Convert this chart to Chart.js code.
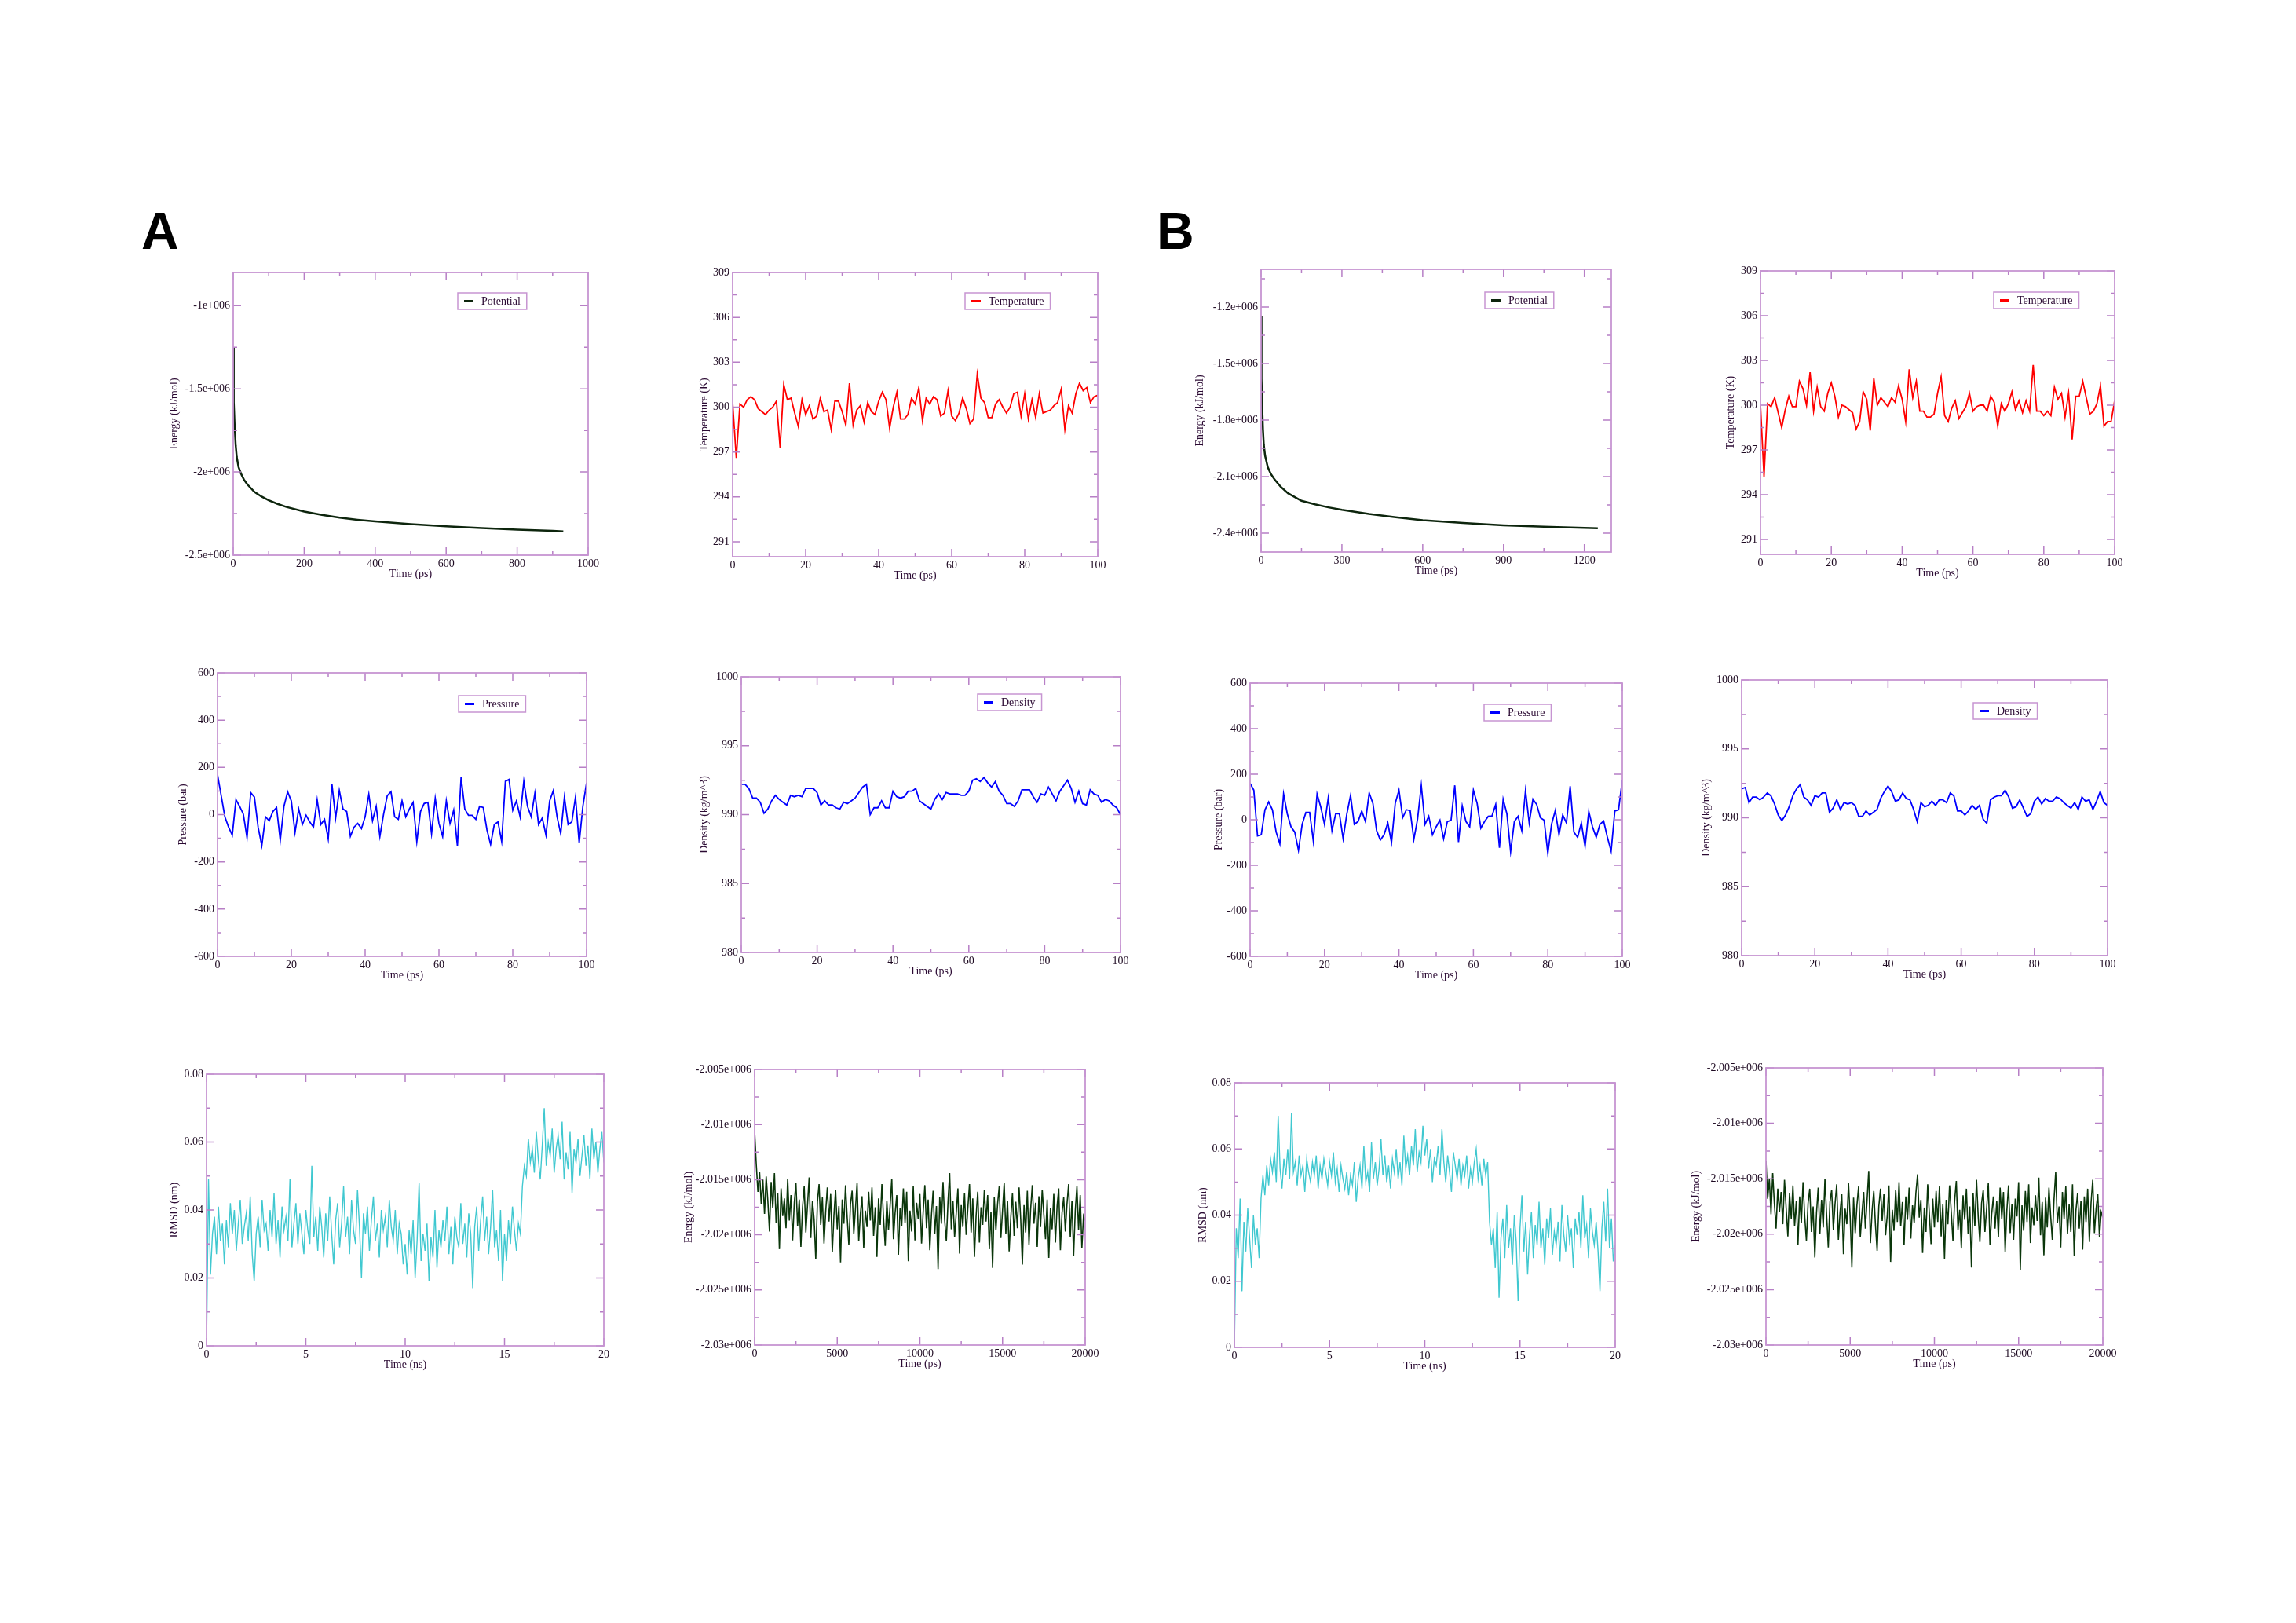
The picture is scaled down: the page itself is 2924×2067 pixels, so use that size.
<!DOCTYPE html>
<html><head><meta charset="utf-8">
<script src="https://cdn.jsdelivr.net/npm/chart.js@4"></script>
<style>
html,body{margin:0;padding:0;background:#fff;width:2924px;height:2067px;overflow:hidden;}
canvas{position:absolute;}
.letter{position:absolute;font-family:'Liberation Sans',Arial,sans-serif;font-weight:bold;font-size:66px;line-height:66px;color:#000;}
</style></head><body>
<div class="letter" style="left:180px;top:261px">A</div>
<div class="letter" style="left:1473px;top:261px">B</div>
<script>
// ---------- DATA ----------
const timePs100 = Array.from({length:101},(_,i)=>i);          // 0..100 ps
const rmsdTimeNs = Array.from({length:201},(_,i)=>i/10);       // 0..20 ns
const energyTimePs = Array.from({length:201},(_,i)=>i*100);    // 0..20000 ps

const potATime = [0,1,2,4,7,10,15,22,30,40,60,80,100,125,150,200,250,300,350,400,500,600,700,800,900,930];
const potAEnergy = [-1250000,-1450000,-1580000,-1720000,-1840000,-1910000,-1970000,-2010000,-2045000,-2075000,-2120000,-2148000,-2170000,-2192000,-2210000,-2238000,-2258000,-2275000,-2287000,-2297000,-2313000,-2326000,-2337000,-2347000,-2354000,-2357000];
const potBTime = [0,1,2,4,7,10,15,25,36,50,73,100,150,200,250,300,400,500,600,750,900,1050,1200,1250];
const potBEnergy = [-1250000,-1450000,-1580000,-1720000,-1850000,-1930000,-1990000,-2050000,-2085000,-2115000,-2154000,-2188000,-2228000,-2247000,-2263000,-2276000,-2298000,-2316000,-2331000,-2346000,-2358000,-2366000,-2372000,-2374000];

const tempA = [300.3,296.6,300.2,300.0,300.5,300.7,300.5,299.9,299.7,299.5,299.8,300.0,300.4,297.3,301.5,300.5,300.6,299.6,298.7,300.5,299.5,300.1,299.2,299.4,300.6,299.7,299.8,298.5,300.4,300.4,299.7,298.8,301.6,298.8,299.8,300.1,299.0,300.3,299.7,299.5,300.4,301.0,300.5,298.6,300.0,301.0,299.2,299.2,299.5,300.6,300.2,301.3,299.1,300.6,300.2,300.7,300.5,299.4,299.6,301.1,299.4,299.1,299.6,300.6,299.9,298.9,299.2,302.2,300.6,300.3,299.3,299.3,300.2,300.5,300.0,299.6,300.0,300.9,301.0,299.4,300.9,299.2,300.5,299.3,300.9,299.6,299.7,299.8,300.1,300.3,301.2,298.5,300.1,299.6,300.9,301.6,301.1,301.3,300.3,300.7,300.8];
const tempB = [300.0,295.2,300.1,299.9,300.5,299.5,298.5,299.7,300.6,299.9,299.9,301.6,301.1,300.0,302.2,299.6,301.2,299.9,299.6,300.8,301.5,300.6,299.2,300.0,299.9,299.7,299.5,298.4,298.9,300.9,300.4,298.3,301.8,300.0,300.5,300.2,299.9,300.5,300.2,301.3,300.4,298.9,302.4,300.5,301.6,299.6,299.6,299.2,299.2,299.4,300.8,301.9,299.3,298.9,299.8,300.3,299.1,299.5,299.9,300.8,299.6,299.9,300.0,300.0,299.6,300.6,300.2,298.6,300.1,299.6,300.1,300.9,299.7,300.3,299.5,300.3,299.6,302.7,299.6,299.6,299.3,299.6,299.3,301.2,300.4,300.8,299.2,300.8,297.7,300.6,300.6,301.6,300.5,299.4,299.6,300.1,301.3,298.6,298.9,298.9,300.3];

const pressureA = [169,80,-9,-53,-87,63,35,2,-98,93,74,-53,-131,-9,-26,13,30,-109,35,97,58,-75,24,-42,-3,-31,-53,63,-42,-20,-103,130,-14,102,24,13,-92,-53,-37,-59,-9,86,-26,35,-92,2,80,97,-9,-20,58,-9,24,52,-114,13,47,52,-81,69,-37,-92,58,-37,19,-131,158,24,-3,-3,-20,35,30,-64,-126,-42,-31,-114,141,149,19,58,-9,141,35,-9,91,-42,-14,-87,58,102,-9,-81,74,-42,-31,74,-120,35,135];
const pressureB = [160,130,-71,-66,44,78,44,-54,-106,113,26,-31,-54,-134,-20,32,32,-94,113,55,-20,95,-48,26,26,-83,26,107,-20,-8,38,-8,118,72,-48,-89,-66,-14,-100,72,130,9,44,40,-86,3,151,-20,15,-66,-31,-2,-83,-8,-2,151,-98,61,-8,-31,130,72,-37,-8,15,17,67,-123,90,26,-140,-8,15,-48,128,-14,90,67,9,-2,-148,-20,40,-66,21,-14,147,-54,-77,-14,-117,36,-31,-77,-20,-6,-77,-138,38,44,174];

const densityA = [992.2,992.2,991.9,991.2,991.2,990.9,990.1,990.4,991.0,991.4,991.1,990.9,990.7,991.4,991.3,991.4,991.3,991.9,991.9,991.9,991.6,990.7,991.0,990.7,990.7,990.5,990.4,990.9,990.8,991.0,991.2,991.6,992.0,992.2,990.0,990.5,990.5,991.0,990.5,990.5,991.7,991.3,991.2,991.3,991.7,991.7,991.9,991.0,990.8,990.6,990.4,991.1,991.5,991.1,991.6,991.5,991.5,991.5,991.4,991.4,991.7,992.5,992.6,992.4,992.7,992.3,992.0,992.4,991.7,991.4,990.8,990.8,990.6,991.0,991.8,991.8,991.8,991.3,990.9,991.5,991.4,992.0,991.5,991.0,991.7,992.1,992.5,991.9,990.9,991.7,990.8,990.7,991.8,991.5,991.4,990.9,991.1,991.0,990.7,990.5,990.0];
const densityB = [992.1,992.2,991.1,991.5,991.5,991.3,991.5,991.8,991.6,991.0,990.2,989.8,990.2,990.8,991.6,992.1,992.4,991.5,991.3,990.9,991.6,991.5,991.8,991.8,990.4,990.7,991.3,990.6,991.1,991.0,991.1,990.9,990.1,990.1,990.5,990.2,990.4,990.6,991.4,991.9,992.3,991.9,991.2,991.3,991.8,991.4,991.3,990.6,989.7,991.1,990.8,990.9,991.2,990.9,991.3,991.3,991.1,991.8,991.6,990.5,990.5,990.2,990.5,990.9,990.6,990.9,989.9,989.6,991.3,991.5,991.6,991.6,992.0,991.5,990.7,990.8,991.3,990.7,990.1,990.3,991.2,991.5,991.0,991.4,991.2,991.2,991.5,991.4,991.1,990.9,990.7,991.1,990.6,991.5,991.2,991.3,990.6,991.2,991.9,991.1,990.9];

const rmsdA = [0.000,0.049,0.021,0.033,0.038,0.027,0.041,0.031,0.036,0.024,
0.037,0.029,0.042,0.033,0.040,0.028,0.036,0.043,0.030,0.035,
0.039,0.031,0.044,0.027,0.019,0.033,0.038,0.029,0.043,0.034,
0.036,0.028,0.040,0.032,0.045,0.030,0.037,0.026,0.041,0.034,
0.038,0.031,0.049,0.029,0.036,0.042,0.030,0.039,0.033,0.027,
0.040,0.034,0.030,0.053,0.032,0.038,0.028,0.041,0.035,0.026,
0.039,0.031,0.044,0.033,0.024,0.037,0.042,0.029,0.036,0.047,
0.032,0.038,0.027,0.043,0.034,0.030,0.046,0.035,0.020,0.039,
0.033,0.041,0.028,0.037,0.044,0.031,0.036,0.026,0.040,0.034,
0.038,0.029,0.043,0.035,0.031,0.040,0.027,0.036,0.033,0.024,
0.030,0.021,0.034,0.027,0.037,0.020,0.031,0.048,0.025,0.033,
0.028,0.036,0.019,0.032,0.026,0.040,0.023,0.034,0.029,0.037,
0.031,0.041,0.027,0.035,0.024,0.038,0.032,0.029,0.042,0.030,
0.036,0.026,0.039,0.033,0.017,0.035,0.041,0.028,0.037,0.044,
0.031,0.038,0.027,0.035,0.046,0.029,0.034,0.025,0.040,0.019,
0.033,0.025,0.037,0.030,0.041,0.034,0.028,0.036,0.033,0.047,
0.053,0.050,0.061,0.054,0.058,0.051,0.063,0.055,0.049,0.059,
0.070,0.053,0.060,0.056,0.064,0.051,0.058,0.062,0.055,0.066,
0.049,0.057,0.052,0.063,0.045,0.058,0.054,0.061,0.050,0.056,
0.062,0.053,0.059,0.049,0.064,0.055,0.060,0.051,0.058,0.063,
0.054];
const rmsdB = [0.000,0.036,0.027,0.045,0.017,0.038,0.029,0.042,0.033,0.024,
0.040,0.031,0.036,0.027,0.045,0.052,0.046,0.055,0.049,0.057,
0.053,0.059,0.050,0.070,0.054,0.048,0.057,0.052,0.060,0.051,
0.071,0.053,0.056,0.049,0.058,0.052,0.055,0.047,0.057,0.053,
0.050,0.056,0.052,0.058,0.048,0.055,0.051,0.057,0.053,0.049,
0.056,0.052,0.059,0.050,0.054,0.047,0.055,0.051,0.048,0.053,
0.046,0.052,0.049,0.056,0.044,0.051,0.055,0.048,0.061,0.050,
0.053,0.047,0.062,0.051,0.056,0.049,0.054,0.063,0.052,0.058,
0.050,0.055,0.048,0.057,0.053,0.060,0.051,0.056,0.049,0.064,
0.054,0.058,0.052,0.061,0.055,0.066,0.053,0.059,0.056,0.067,
0.058,0.063,0.054,0.060,0.050,0.057,0.055,0.061,0.052,0.066,
0.056,0.050,0.058,0.053,0.047,0.059,0.055,0.051,0.057,0.049,
0.055,0.052,0.058,0.048,0.054,0.050,0.056,0.060,0.051,0.055,
0.049,0.057,0.052,0.056,0.038,0.031,0.036,0.024,0.041,0.015,
0.033,0.039,0.027,0.043,0.030,0.036,0.025,0.040,0.032,0.014,
0.036,0.046,0.029,0.038,0.022,0.034,0.041,0.027,0.037,0.031,
0.044,0.030,0.036,0.025,0.039,0.033,0.042,0.028,0.035,0.031,
0.038,0.026,0.043,0.034,0.029,0.040,0.032,0.036,0.024,0.039,
0.034,0.041,0.030,0.046,0.033,0.037,0.027,0.042,0.035,0.031,
0.038,0.029,0.017,0.036,0.044,0.032,0.048,0.030,0.039,0.026,
0.031];

const energyA = [-2010600,-2013600,-2016100,-2014300,-2017200,-2015000,-2018100,-2014700,-2016900,-2019700,
-2015200,-2017600,-2014400,-2018900,-2016200,-2021300,-2015800,-2018300,-2016700,-2019400,
-2014900,-2018700,-2016400,-2020500,-2017100,-2015300,-2019200,-2016800,-2021100,-2017500,
-2015600,-2019800,-2017300,-2014800,-2020300,-2016900,-2018600,-2022200,-2017000,-2015400,
-2019100,-2016600,-2020800,-2017900,-2015700,-2018800,-2016300,-2021600,-2018200,-2015900,
-2019500,-2017400,-2022500,-2016800,-2019000,-2015500,-2018400,-2020900,-2017200,-2016000,
-2019900,-2017700,-2015300,-2020600,-2018100,-2016500,-2021200,-2017800,-2019300,-2016100,
-2018700,-2015700,-2020100,-2017500,-2022000,-2016700,-2019100,-2015400,-2018500,-2021000,
-2016900,-2019600,-2017300,-2014900,-2020400,-2018000,-2016400,-2021800,-2017600,-2019200,
-2015800,-2018900,-2016100,-2022400,-2017800,-2019700,-2015600,-2020500,-2017100,-2018600,
-2016300,-2020800,-2017900,-2015500,-2019400,-2016800,-2021400,-2018200,-2016000,-2019900,
-2017400,-2023100,-2016600,-2019000,-2015200,-2018700,-2020600,-2017000,-2014400,-2019500,
-2016900,-2020200,-2018000,-2015800,-2021700,-2017300,-2019300,-2016200,-2020000,-2017600,
-2015400,-2019800,-2016700,-2022000,-2018300,-2016100,-2020700,-2017500,-2019100,-2015900,
-2018800,-2016400,-2021300,-2017900,-2023000,-2016600,-2019600,-2017200,-2015600,-2020300,
-2017800,-2015300,-2019900,-2016900,-2021500,-2018400,-2016200,-2020100,-2017000,-2019400,
-2015700,-2018600,-2022700,-2017300,-2019800,-2016000,-2020900,-2017700,-2015500,-2019000,
-2017100,-2021100,-2016500,-2019300,-2015900,-2018200,-2020400,-2016800,-2022100,-2017600,
-2019500,-2016300,-2020700,-2017400,-2015800,-2021400,-2018000,-2016600,-2019700,-2017200,
-2015400,-2020200,-2016900,-2021900,-2017800,-2015600,-2019600,-2016400,-2021200,-2018300,
-2018700];
const energyB = [-2013400,-2016800,-2015000,-2018200,-2014500,-2017300,-2019500,-2015900,-2018000,-2016200,
-2019100,-2015100,-2017700,-2020200,-2016300,-2018600,-2015600,-2019300,-2017000,-2021000,
-2016600,-2019000,-2015300,-2018400,-2020600,-2017200,-2015900,-2019800,-2017500,-2022100,
-2018100,-2015800,-2020000,-2016900,-2019400,-2015000,-2018300,-2021200,-2017100,-2016000,
-2019600,-2017300,-2015500,-2020500,-2018000,-2016400,-2021800,-2017700,-2019100,-2015400,
-2018500,-2023000,-2016700,-2019900,-2017400,-2015700,-2020300,-2018100,-2016200,-2019500,
-2017000,-2014300,-2020800,-2017900,-2016100,-2019200,-2021500,-2017500,-2015900,-2018800,
-2016400,-2020100,-2018300,-2015600,-2022500,-2017800,-2019700,-2016000,-2018900,-2015300,
-2019300,-2017100,-2021000,-2016600,-2018700,-2015800,-2020400,-2017400,-2019000,-2016300,
-2014600,-2018500,-2016900,-2021700,-2017600,-2019800,-2015500,-2018200,-2020900,-2016800,
-2019400,-2016100,-2018900,-2015700,-2020200,-2017300,-2022200,-2016900,-2019100,-2015600,
-2018000,-2020600,-2017000,-2015200,-2019600,-2017800,-2021300,-2016500,-2018700,-2015900,
-2020000,-2017500,-2023000,-2016300,-2019300,-2015100,-2018400,-2020700,-2017200,-2016000,
-2019800,-2017700,-2015400,-2021000,-2018200,-2016600,-2019500,-2017000,-2020300,-2015800,
-2018600,-2016200,-2021600,-2017900,-2015600,-2019900,-2017300,-2020500,-2016800,-2018400,
-2015300,-2023200,-2017400,-2019700,-2016100,-2018900,-2015500,-2020800,-2017600,-2019200,
-2016500,-2018800,-2014900,-2020100,-2017100,-2021900,-2016700,-2019400,-2015800,-2018300,
-2020500,-2016900,-2014400,-2019000,-2017500,-2021200,-2016200,-2018600,-2015700,-2020000,
-2017300,-2019800,-2015500,-2022000,-2017900,-2016300,-2019500,-2017000,-2021400,-2016600,
-2018900,-2015900,-2020700,-2017200,-2015100,-2019900,-2017700,-2016400,-2020300,-2018000,
-2018500];

// ---------- STYLE ----------
const FRAME = '#c795d2';
const TICKC = '#b77fc6';
const LABELC = '#1e0a22';
const TITLEC = '#2b0a33';
const FONTF = '"Liberation Serif","Times New Roman",serif';

function zipXY(xs, ys){ return ys.map((v,i)=>({x:xs[i], y:v})).filter(p=>p.x!==undefined); }

function fmtSci(v){
  const s = v.toExponential();
  const m = s.match(/^(.*)e([+-])(\d+)$/);
  return m[1]+'e'+m[2]+m[3].padStart(3,'0');
}
function fmtPlain(v){ return String(Math.round(v*1e9)/1e9); }

function tickList(first, step, max){
  const out=[]; for(let k=0;;k++){ const v=Math.round((first+k*step)*1e9)/1e9; if(v>max+1e-9) break; out.push(v);} return out;
}
function minorList(first, step, minor, min, max){
  const out=[]; for(let k=-2;;k++){ const v=Math.round((first+k*minor)*1e9)/1e9; if(v>max+1e-9) break; if(v<min-1e-9) continue;
    const r=(v-first)/step; if(Math.abs(r-Math.round(r))<1e-6) continue; out.push(v);} return out;
}

const framePlugin = {
  id:'frame',
  afterDatasetsDraw(chart){
    const p = chart.options.plugins.frame;
    const {ctx, chartArea:{left,right,top,bottom}, scales:{x,y}} = chart;
    ctx.save();
    ctx.lineWidth = 1.5; ctx.strokeStyle = TICKC;
    const xs = (vals,len)=>vals.forEach(v=>{const px=x.getPixelForValue(v); ctx.beginPath(); ctx.moveTo(px,bottom); ctx.lineTo(px,bottom-len); ctx.moveTo(px,top); ctx.lineTo(px,top+len); ctx.stroke();});
    const ys = (vals,len)=>vals.forEach(v=>{const py=y.getPixelForValue(v); ctx.beginPath(); ctx.moveTo(left,py); ctx.lineTo(left+len,py); ctx.moveTo(right,py); ctx.lineTo(right-len,py); ctx.stroke();});
    xs(tickList(p.x.first,p.x.step,p.x.max),10);
    xs(minorList(p.x.first,p.x.step,p.x.minor,p.x.min,p.x.max),5);
    ys(tickList(p.y.first,p.y.step,p.y.max),10);
    ys(minorList(p.y.first,p.y.step,p.y.minor,p.y.min,p.y.max),5);
    ctx.strokeStyle = FRAME; ctx.lineWidth = 1.8;
    ctx.strokeRect(left,top,right-left,bottom-top);
    if (p.legend){
      const ds = chart.data.datasets[0];
      ctx.font = '14px '+FONTF;
      const tw = ctx.measureText(ds.label).width;
      const w = tw+38, h = 21;
      const lx = Math.round(left + p.legend.fx*(right-left)), ly = Math.round(top + p.legend.fy*(bottom-top));
      ctx.fillStyle = '#fff'; ctx.fillRect(lx,ly,w,h);
      ctx.strokeStyle = FRAME; ctx.lineWidth = 1.5; ctx.strokeRect(lx,ly,w,h);
      ctx.strokeStyle = ds.borderColor; ctx.lineWidth = 3;
      ctx.beginPath(); ctx.moveTo(lx+8,ly+h/2); ctx.lineTo(lx+20,ly+h/2); ctx.stroke();
      ctx.fillStyle = TITLEC; ctx.textBaseline = 'middle'; ctx.textAlign='left';
      ctx.fillText(ds.label, lx+30, ly+h/2+1);
    }
    ctx.restore();
  }
};

// ---------- PANELS (layout + styling) ----------
const panels = [
  {L:297,T:347,R:749,B:707, x:{min:0,max:1000,first:0,step:200,minor:100}, y:{min:-2500000,max:-800000,first:-2500000,step:500000,minor:250000}, sci:true,
   xt:'Time (ps)', yt:'Energy (kJ/mol)', yOff:75, legend:{fx:0.632,fy:0.072}, label:'Potential', color:'#0d250d', lw:2.5, data:zipXY(potATime,potAEnergy)},
  {L:933,T:347,R:1398,B:709, x:{min:0,max:100,first:0,step:20,minor:10}, y:{min:290,max:309,first:291,step:3,minor:1.5},
   xt:'Time (ps)', yt:'Temperature (K)', yOff:36, legend:{fx:0.637,fy:0.072}, label:'Temperature', color:'#ff0000', lw:1.8, data:zipXY(timePs100,tempA)},
  {L:1606,T:343,R:2052,B:703, x:{min:0,max:1300,first:0,step:300,minor:150}, y:{min:-2500000,max:-1000000,first:-2400000,step:300000,minor:150000}, sci:true,
   xt:'Time (ps)', yt:'Energy (kJ/mol)', yOff:78, legend:{fx:0.639,fy:0.08}, label:'Potential', color:'#0d250d', lw:2.5, data:zipXY(potBTime,potBEnergy)},
  {L:2242,T:345,R:2693,B:706, x:{min:0,max:100,first:0,step:20,minor:10}, y:{min:290,max:309,first:291,step:3,minor:1.5},
   xt:'Time (ps)', yt:'Temperature (K)', yOff:38, legend:{fx:0.659,fy:0.075}, label:'Temperature', color:'#ff0000', lw:1.8, data:zipXY(timePs100,tempB)},

  {L:277,T:857,R:747,B:1218, x:{min:0,max:100,first:0,step:20,minor:10}, y:{min:-600,max:600,first:-600,step:200,minor:100},
   xt:'Time (ps)', yt:'Pressure (bar)', yOff:44, legend:{fx:0.653,fy:0.08}, label:'Pressure', color:'#0000ff', lw:1.8, data:zipXY(timePs100,pressureA)},
  {L:944,T:862,R:1427,B:1213, x:{min:0,max:100,first:0,step:20,minor:10}, y:{min:980,max:1000,first:980,step:5,minor:2.5},
   xt:'Time (ps)', yt:'Density (kg/m^3)', yOff:47, legend:{fx:0.623,fy:0.063}, label:'Density', color:'#0000ff', lw:1.8, data:zipXY(timePs100,densityA)},
  {L:1592,T:870,R:2066,B:1218, x:{min:0,max:100,first:0,step:20,minor:10}, y:{min:-600,max:600,first:-600,step:200,minor:100},
   xt:'Time (ps)', yt:'Pressure (bar)', yOff:40, legend:{fx:0.629,fy:0.078}, label:'Pressure', color:'#0000ff', lw:1.8, data:zipXY(timePs100,pressureB)},
  {L:2218,T:866,R:2684,B:1217, x:{min:0,max:100,first:0,step:20,minor:10}, y:{min:980,max:1000,first:980,step:5,minor:2.5},
   xt:'Time (ps)', yt:'Density (kg/m^3)', yOff:45, legend:{fx:0.633,fy:0.083}, label:'Density', color:'#0000ff', lw:1.8, data:zipXY(timePs100,densityB)},

  {L:263,T:1368,R:769,B:1714, x:{min:0,max:20,first:0,step:5,minor:2.5}, y:{min:0,max:0.08,first:0,step:0.02,minor:0.01},
   xt:'Time (ns)', yt:'RMSD (nm)', yOff:41, legend:null, label:'RMSD', color:'#40c8d0', lw:1.4, data:zipXY(rmsdTimeNs,rmsdA)},
  {L:961,T:1362,R:1382,B:1713, x:{min:0,max:20000,first:0,step:5000,minor:2500}, y:{min:-2030000,max:-2005000,first:-2030000,step:5000,minor:2500}, sci:true,
   xt:'Time (ps)', yt:'Energy (kJ/mol)', yOff:84, legend:null, label:'Energy', color:'#0a360a', lw:1.6, data:zipXY(energyTimePs,energyA)},
  {L:1572,T:1379,R:2057,B:1716, x:{min:0,max:20,first:0,step:5,minor:2.5}, y:{min:0,max:0.08,first:0,step:0.02,minor:0.01},
   xt:'Time (ns)', yt:'RMSD (nm)', yOff:40, legend:null, label:'RMSD', color:'#40c8d0', lw:1.4, data:zipXY(rmsdTimeNs,rmsdB)},
  {L:2249,T:1360,R:2678,B:1713, x:{min:0,max:20000,first:0,step:5000,minor:2500}, y:{min:-2030000,max:-2005000,first:-2030000,step:5000,minor:2500}, sci:true,
   xt:'Time (ps)', yt:'Energy (kJ/mol)', yOff:89, legend:null, label:'Energy', color:'#0a360a', lw:1.6, data:zipXY(energyTimePs,energyB)}
];

const PT = 15, PR = 32, XH = 35;
panels.forEach(p=>{
  const W = p.yOff + 10;
  const cw = W + (p.R-p.L) + PR, ch = PT + (p.B-p.T) + XH;
  const cv = document.createElement('canvas');
  cv.width = cw; cv.height = ch;
  cv.style.left = (p.L-W)+'px'; cv.style.top = (p.T-PT)+'px';
  cv.style.width = cw+'px'; cv.style.height = ch+'px';
  document.body.appendChild(cv);
  const tickFont = {family:FONTF, size:14};
  const titleFont = {family:FONTF, size:14};
  new Chart(cv.getContext('2d'), {
    type:'line',
    data:{datasets:[{label:p.label, data:p.data, borderColor:p.color, backgroundColor:p.color, borderWidth:p.lw, pointRadius:0, tension:0, fill:false}]},
    options:{
      responsive:false, animation:false, devicePixelRatio:1,
      layout:{padding:{top:PT,right:PR,left:0,bottom:0}},
      plugins:{legend:{display:false}, tooltip:{enabled:false}, frame:{x:p.x, y:p.y, legend:p.legend}},
      scales:{
        x:{type:'linear', min:p.x.min, max:p.x.max,
           afterBuildTicks(s){ s.ticks = tickList(p.x.first,p.x.step,p.x.max).map(v=>({value:v})); },
           afterFit(s){ s.height = XH; },
           grid:{display:false, drawTicks:false, tickLength:0}, border:{display:false},
           ticks:{color:LABELC, font:tickFont, padding:3, maxRotation:0, autoSkip:false, callback:v=>fmtPlain(v)},
           title:{display:true, text:p.xt, color:TITLEC, font:titleFont, padding:{top:0,bottom:2}}},
        y:{type:'linear', min:p.y.min, max:p.y.max,
           afterBuildTicks(s){ s.ticks = tickList(p.y.first,p.y.step,p.y.max).map(v=>({value:v})); },
           afterFit(s){ s.width = W; },
           grid:{display:false, drawTicks:false, tickLength:0}, border:{display:false},
           ticks:{color:LABELC, font:tickFont, padding:4, autoSkip:false, callback:v=>p.sci?fmtSci(v):fmtPlain(v)},
           title:{display:true, text:p.yt, color:TITLEC, font:titleFont, padding:{top:2,bottom:0}}}
      }
    },
    plugins:[framePlugin]
  });
});
</script>
</body></html>
